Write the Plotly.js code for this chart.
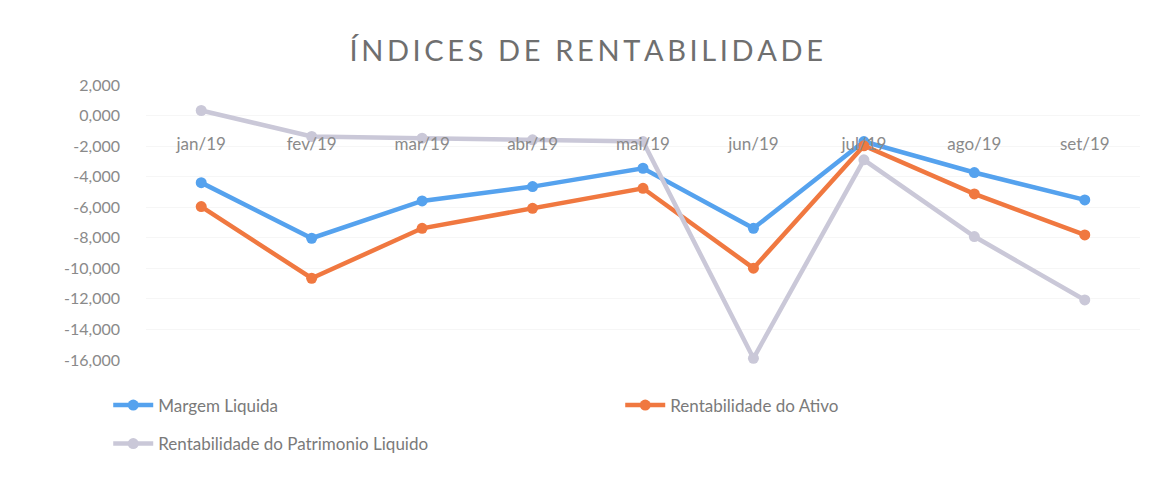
<!DOCTYPE html>
<html>
<head>
<meta charset="utf-8">
<script src="https://cdn.plot.ly/plotly-3.0.1.min.js"></script>
<style>html,body{margin:0;padding:0;background:#fff;}#chart{width:1170px;height:481px;}</style>
</head>
<body>
<div id="chart"></div>
<script>
const categories = ["jan/19","fev/19","mar/19","abr/19","mai/19","jun/19","jul/19","ago/19","set/19"];
const margemLiquida = [-4.39,-8.03,-5.59,-4.65,-3.45,-7.38,-1.70,-3.73,-5.52];
const rentAtivo = [-5.96,-10.65,-7.38,-6.07,-4.76,-9.99,-1.98,-5.13,-7.81];
const rentPL = [0.33,-1.37,-1.48,-1.59,-1.70,-15.89,-2.90,-7.92,-12.07];
const yTickVals = [2,0,-2,-4,-6,-8,-10,-12,-14,-16];
const yTickText = ["2,000","0,000","-2,000","-4,000","-6,000","-8,000","-10,000","-12,000","-14,000","-16,000"];
const titleText = "ÍNDICES DE RENTABILIDADE";

const FONT = "Lato, 'Open Sans', sans-serif";
const spacedTitle = titleText.split(' ').map(w => w.split('').join('\u2009')).join('\u2009 \u2009');
function tr(name, y, color, legend) {
  return {type:'scatter', mode:'lines+markers', name:name, x:categories, y:y, legend:legend,
    cliponaxis:false, line:{color:color, width:4.5}, marker:{color:color, size:11}};
}
const data = [
  tr("Margem Liquida", margemLiquida, "#55A2EE", 'legend'),
  tr("Rentabilidade do Ativo", rentAtivo, "#F07840", 'legend'),
  tr("Rentabilidade do Patrimonio Liquido", rentPL, "#CAC8D8", 'legend2')
];
const legFont = {size:17, color:'#7a7a7a', family:FONT};
const layout = {
  width:1170, height:481,
  paper_bgcolor:'#fff', plot_bgcolor:'#fff',
  margin:{l:146, r:30, t:85, b:121},
  font:{family:FONT, color:'#808080'},
  title:{text:spacedTitle, x:0.501, xanchor:'center', y:0.895, yanchor:'middle',
    font:{family:FONT, size:29, color:'#6f6f6f'}},
  xaxis:{type:'category', anchor:'free', position:16/18, showline:false, showgrid:false, zeroline:false,
    ticks:'', ticklabelstandoff:16, tickfont:{size:17, color:'#8a8a8a', family:FONT}, range:[-0.5,8.5]},
  yaxis:{range:[-16,2], tickvals:yTickVals, ticktext:yTickText, showgrid:true, gridcolor:'#f6f6f6',
    zeroline:false, showline:false, ticks:'', ticklabelstandoff:25, tickfont:{size:16, color:'#8a8a8a', family:FONT}},
  showlegend:true,
  legend:{orientation:'h', x:-0.038, xanchor:'left', y:-0.10, yanchor:'top', entrywidth:457, entrywidthmode:'pixels',
    font:legFont, itemwidth:40, bgcolor:'rgba(0,0,0,0)'},
  legend2:{orientation:'h', x:-0.038, xanchor:'left', y:-0.24, yanchor:'top',
    font:legFont, itemwidth:40, bgcolor:'rgba(0,0,0,0)'}
};
Plotly.newPlot('chart', data, layout, {displayModeBar:false, staticPlot:true});
</script>
</body>
</html>
